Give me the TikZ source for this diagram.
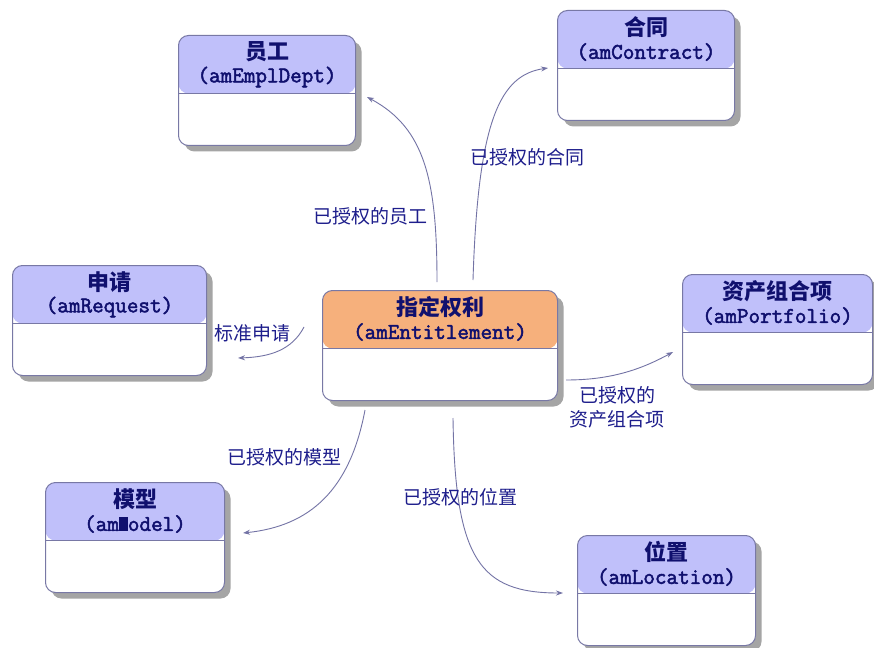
\documentclass[tikz,border=0pt]{standalone}
\usepackage{fontspec}
\newfontfamily\cjk{Noto Sans CJK SC}
\newfontfamily\monob{Latin Modern Mono}[FakeBold=2.2]
\usetikzlibrary{arrows.meta,shadows}
\definecolor{hdrblue}{RGB}{192,192,250}
\definecolor{hdrorange}{RGB}{246,176,124}
\definecolor{bordercol}{RGB}{120,120,165}
\definecolor{shadowcol}{RGB}{165,165,165}
\definecolor{titlecol}{RGB}{16,16,110}
\definecolor{labelcol}{RGB}{30,30,140}
\definecolor{linecol}{RGB}{115,115,165}
\tikzset{
  entbox/.style={draw=bordercol, line width=1pt, rounded corners=10pt, fill=white,
    minimum height=110pt, inner sep=0pt,
    drop shadow={shadow xshift=6pt, shadow yshift=-6pt, fill=shadowcol, opacity=1},
    path picture={\fill[#1] (path picture bounding box.north west) rectangle ([yshift=-58pt]path picture bounding box.east |- path picture bounding box.north);
      \draw[bordercol, line width=1pt] ([yshift=-58pt]path picture bounding box.west |- path picture bounding box.north) -- ([yshift=-58pt]path picture bounding box.east |- path picture bounding box.north);}},
  titletext/.style={font=\cjk\bfseries\fontsize{22}{24}\selectfont, text=titlecol, inner sep=0pt},
  subtext/.style={font=\monob\fontsize{22.5}{24}\selectfont, text=titlecol, inner sep=0pt},
  lbl/.style={font=\cjk\fontsize{19}{24}\selectfont, text=labelcol, inner sep=0pt, align=center},
  rel/.style={draw=linecol, line width=0.9pt, -{Stealth[length=7pt,width=5pt]}}
}
\newcommand{\entity}[7]{%
  \node[entbox=#5, minimum width=#4pt, anchor=north west] (#1) at (#2,#3) {};
  \node[titletext] (#1-t) at ([yshift=-17pt]#1.north) {#6};
  \node[subtext] (#1-s) at ([yshift=-42pt]#1.north) {#7};
}
\begin{document}
\begin{tikzpicture}[x=1pt,y=-1pt]
\useasboundingbox[fill=white] (0,0) rectangle (874,647);
\entity{empl}{178}{35}{177}{hdrblue}{员工}{(amEmplDept)}
\entity{contract}{557}{10}{177}{hdrblue}{合同}{(amContract)}
\entity{request}{12}{265}{194}{hdrblue}{申请}{(amRequest)}
\entity{ent}{322}{290}{235}{hdrorange}{指定权利}{(amEntitlement)}
\entity{port}{682}{274}{190}{hdrblue}{资产组合项}{(amPortfolio)}
\entity{model}{45}{482}{179}{hdrblue}{模型}{(am\rule{0.4em}{0.62em}odel)}
\entity{loc}{577}{535}{178}{hdrblue}{位置}{(amLocation)}

\coordinate (s1) at (437,282); \coordinate (e1) at (367,97);
\coordinate (s2) at (473,280); \coordinate (e2) at (548,68);
\coordinate (s3) at (304,327); \coordinate (e3) at (238,358);
\coordinate (s4) at (566,380); \coordinate (e4) at (673,352);
\coordinate (s5) at (365,410); \coordinate (e5) at (243,533);
\coordinate (s6) at (453,418); \coordinate (e6) at (563,593);

\draw[rel] (s1) .. controls (437,180) and (425,128) .. (e1);
\draw[rel] (s2) .. controls (478,120) and (500,75) .. (e2);
\draw[rel] (s3) .. controls (292,350) and (270,357) .. (e3);
\draw[rel] (s4) .. controls (610,380) and (640,370) .. (e4);
\draw[rel] (s5) .. controls (350,490) and (310,526) .. (e5);
\draw[rel] (s6) .. controls (455,560) and (480,593) .. (e6);

\node[lbl] (l1) at (370,216) {已授权的员工};
\node[lbl] (l2) at (527,157) {已授权的合同};
\node[lbl] (l3) at (252,333) {标准申请};
\node[lbl] (l4) at (617,407) {已授权的\\资产组合项};
\node[lbl] (l5) at (284,457) {已授权的模型};
\node[lbl] (l6) at (460,497) {已授权的位置};
\end{tikzpicture}
\end{document}
